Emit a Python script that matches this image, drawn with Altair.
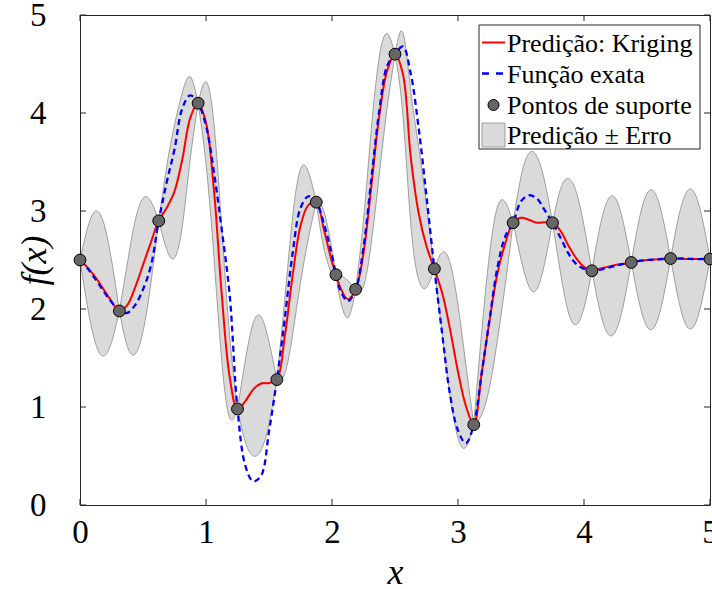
import altair as alt
import pandas as pd

# ---------------- data ----------------
x_grid = [0, 0.0625, 0.125, 0.1875, 0.25, 0.3125, 0.375, 0.4375, 0.5, 0.5625,
          0.625, 0.6875, 0.75, 0.8125, 0.875, 0.9375, 1.0, 1.0625, 1.125, 1.1875,
          1.25, 1.3125, 1.375, 1.4375, 1.5, 1.5625, 1.625, 1.6875, 1.75, 1.8125,
          1.875, 1.9375, 2.0, 2.03125, 2.0625, 2.125, 2.1875, 2.25, 2.3125, 2.375,
          2.4375, 2.5, 2.5625, 2.625, 2.6875, 2.75, 2.8125, 2.875, 2.9375, 3.0,
          3.0625, 3.125, 3.1875, 3.25, 3.3125, 3.375, 3.4375, 3.5, 3.5625, 3.625,
          3.6875, 3.75, 3.8125, 3.875, 3.9375, 4.0, 4.0625, 4.125, 4.1875, 4.25,
          4.3125, 4.375, 4.4375, 4.5, 4.5625, 4.625, 4.6875, 4.75, 4.8125, 4.875,
          4.9375, 5.0]

pred = [2.50, 2.42, 2.32, 2.20, 2.08, 1.98, 2.04, 2.22, 2.45, 2.68,
        2.90, 3.03, 3.20, 3.53, 3.95, 4.10, 3.90, 3.22, 2.15, 1.31,
        0.98, 1.06, 1.18, 1.24, 1.245, 1.28, 1.72, 2.34, 2.85, 3.06,
        3.09, 2.80, 2.48, 2.35, 2.23, 2.10, 2.20, 2.57, 3.26, 3.97,
        4.43, 4.60, 4.40, 3.55, 2.98, 2.64, 2.41, 2.16, 1.79, 1.36,
        1.01, 0.82, 1.34, 1.88, 2.36, 2.67, 2.88, 2.93, 2.91, 2.88,
        2.885, 2.88, 2.80, 2.65, 2.52, 2.43, 2.39, 2.41, 2.43, 2.45,
        2.46, 2.475, 2.49, 2.50, 2.505, 2.51, 2.515, 2.515, 2.51, 2.51,
        2.51, 2.51]

exact = [2.50, 2.41, 2.30, 2.18, 2.07, 1.98, 1.96, 2.04, 2.20, 2.44,
         2.90, 3.29, 3.63, 4.05, 4.18, 4.10, 3.87, 3.40, 2.81, 2.15,
         0.98, 0.40, 0.24, 0.30, 0.75, 1.28, 1.90, 2.57, 3.03, 3.15,
         3.09, 2.86, 2.55, 2.35, 2.20, 2.08, 2.20, 2.63, 3.33, 4.02,
         4.48, 4.60, 4.68, 4.40, 3.85, 3.15, 2.41, 1.74, 1.12, 0.76,
         0.63, 0.82, 1.34, 1.89, 2.42, 2.74, 2.88, 3.10, 3.16, 3.13,
         3.01, 2.88, 2.73, 2.57, 2.46, 2.41, 2.39, 2.40, 2.42, 2.44,
         2.46, 2.475, 2.49, 2.50, 2.505, 2.51, 2.515, 2.515, 2.515, 2.51,
         2.51, 2.51]

err = [0, 0.42, 0.68, 0.68, 0.42,
       0, 0.42, 0.68, 0.68, 0.42,
       0, 0.42, 0.68, 0.68, 0.42,
       0, 0.42, 0.68, 0.68, 0.42,
       0, 0.42, 0.68, 0.68, 0.42,
       0, 0.38, 0.60, 0.58, 0.34,
       0, 0.19, 0.12, 0, 0.12, 0.19,
       0, 0.34, 0.58, 0.60, 0.38,
       0, 0.42, 0.68, 0.68, 0.42,
       0, 0.42, 0.68, 0.68, 0.42,
       0, 0.42, 0.68, 0.68, 0.42,
       0, 0.42, 0.68, 0.68, 0.42,
       0, 0.42, 0.68, 0.68, 0.42,
       0, 0.42, 0.68, 0.68, 0.42,
       0, 0.42, 0.68, 0.68, 0.42,
       0, 0.42, 0.68, 0.68, 0.42,
       0]

supp_x = [0, 0.3125, 0.625, 0.9375, 1.25, 1.5625, 1.875, 2.03125, 2.1875,
          2.5, 2.8125, 3.125, 3.4375, 3.75, 4.0625, 4.375, 4.6875, 5.0]
supp_y = [2.50, 1.98, 2.90, 4.10, 0.98, 1.28, 3.09, 2.35, 2.20,
          4.60, 2.41, 0.82, 2.88, 2.88, 2.39, 2.475, 2.515, 2.51]

tick_vals = [0, 1, 2, 3, 4, 5]
leg_labels = ["Predição: Kriging", "Função exata", "Pontos de suporte", "Predição ± Erro"]

# ---------------- tables ----------------
curve = pd.DataFrame({"x": x_grid, "pred": pred, "exact": exact, "err": err})
curve["lo"] = curve["pred"] - curve["err"]
curve["hi"] = curve["pred"] + curve["err"]

rows = []
for i in range(len(supp_x) - 1):
    a, b = supp_x[i], supp_x[i + 1]
    for r in curve.itertuples():
        if a - 1e-9 <= r.x <= b + 1e-9:
            rows.append({"seg": i, "x": r.x, "lo": r.lo, "hi": r.hi})
band_df = pd.DataFrame(rows)
pts = pd.DataFrame({"x": supp_x, "y": supp_y})
ticks = pd.DataFrame({"t": tick_vals})

W, H = 630, 490
FONT = "Liberation Serif"
FRAME = "#262626"
INTERP = "catmull-rom"

xs = alt.Scale(domain=[0, 5], nice=False, zero=False)
ys = alt.Scale(domain=[0, 5], nice=False, zero=False)

ax_x = alt.Axis(values=tick_vals, ticks=False, domain=False, grid=False, format="d",
                labelFont=FONT, labelFontSize=33, labelColor="black", labelPadding=11,
                labelFlush=False, labelOverlap=False,
                title="x", titleFont=FONT, titleFontSize=36, titleFontStyle="italic",
                titleFontWeight="normal", titleColor="black", titlePadding=6)
ax_y = alt.Axis(values=tick_vals, ticks=False, domain=False, grid=False, format="d",
                labelFont=FONT, labelFontSize=33, labelColor="black", labelPadding=34,
                labelFlush=False, labelOverlap=False,
                title="f(x)", titleFont=FONT, titleFontSize=36, titleFontStyle="italic",
                titleFontWeight="normal", titleColor="black",
                titleX=-46, titleY=H / 2, titleBaseline="middle", titleAlign="center")

band = alt.Chart(band_df).mark_area(
    interpolate="natural", fill="#dadada", stroke="#8a8a8a", strokeWidth=0.8
).encode(
    x=alt.X("x:Q", scale=xs, axis=ax_x),
    y=alt.Y("lo:Q", scale=ys, axis=ax_y),
    y2="hi:Q",
    detail="seg:N",
)

red = alt.Chart(curve).mark_line(color="#ff0000", strokeWidth=2, interpolate=INTERP).encode(
    x=alt.X("x:Q", scale=xs), y=alt.Y("pred:Q", scale=ys))
blue = alt.Chart(curve).mark_line(color="#0000ff", strokeWidth=2.3, strokeDash=[6, 4],
                                  interpolate=INTERP).encode(
    x=alt.X("x:Q", scale=xs), y=alt.Y("exact:Q", scale=ys))
points = alt.Chart(pts).mark_circle(size=140, color="#666666", stroke="black",
                                    strokeWidth=1, opacity=1).encode(
    x=alt.X("x:Q", scale=xs), y=alt.Y("y:Q", scale=ys))

tb = alt.Chart(ticks).mark_rule(color=FRAME, strokeWidth=1).encode(
    x=alt.X("t:Q", scale=xs), y=alt.value(H), y2=alt.value(H - 6))
tt = alt.Chart(ticks).mark_rule(color=FRAME, strokeWidth=1).encode(
    x=alt.X("t:Q", scale=xs), y=alt.value(0), y2=alt.value(6))
tl = alt.Chart(ticks).mark_rule(color=FRAME, strokeWidth=1).encode(
    y=alt.Y("t:Q", scale=ys), x=alt.value(0), x2=alt.value(6))
tr = alt.Chart(ticks).mark_rule(color=FRAME, strokeWidth=1).encode(
    y=alt.Y("t:Q", scale=ys), x=alt.value(W), x2=alt.value(W - 6))

# ---------------- legend ----------------
one = pd.DataFrame({"k": [0]})
LX0, LX1, LY0, LY1 = 399, 620, 10, 134
SX0, SX1, TX = 402, 425, 427
row_y = [27.5, 58.5, 90, 120]

leg_box = alt.Chart(one).mark_rect(fill="white", stroke=FRAME, strokeWidth=1).encode(
    x=alt.value(LX0), x2=alt.value(LX1), y=alt.value(LY0), y2=alt.value(LY1))
leg_red = alt.Chart(one).mark_rule(color="#ff0000", strokeWidth=2).encode(
    x=alt.value(SX0), x2=alt.value(SX1), y=alt.value(row_y[0]))
leg_blue = alt.Chart(one).mark_rule(color="#0000ff", strokeWidth=2.3, strokeDash=[7, 7]).encode(
    x=alt.value(SX0), x2=alt.value(SX1), y=alt.value(row_y[1]))
leg_pt = alt.Chart(one).mark_circle(size=120, color="#666666", stroke="black",
                                    strokeWidth=1, opacity=1).encode(
    x=alt.value((SX0 + SX1) / 2), y=alt.value(row_y[2]))
leg_sq = alt.Chart(one).mark_rect(fill="#dadada", stroke="#8a8a8a", strokeWidth=0.8).encode(
    x=alt.value(SX0), x2=alt.value(SX1), y=alt.value(row_y[3] - 12), y2=alt.value(row_y[3] + 12))

leg_texts = []
for i, lab in enumerate(leg_labels):
    leg_texts.append(
        alt.Chart(pd.DataFrame({"label": [lab]})).mark_text(
            align="left", baseline="middle", font=FONT, fontSize=26, color="black"
        ).encode(x=alt.value(TX), y=alt.value(row_y[i] + 1), text="label:N")
    )

chart = alt.layer(
    band, red, blue, points, tb, tt, tl, tr,
    leg_box, leg_red, leg_blue, leg_pt, leg_sq, *leg_texts
).properties(
    width=W, height=H,
    autosize=alt.AutoSizeParams(type="none"),
    padding={"left": 80, "top": 15, "right": 2, "bottom": 84},
).configure_view(stroke=FRAME, strokeWidth=1)

chart.save("out.html", embed_options={"renderer": "svg", "actions": False})
